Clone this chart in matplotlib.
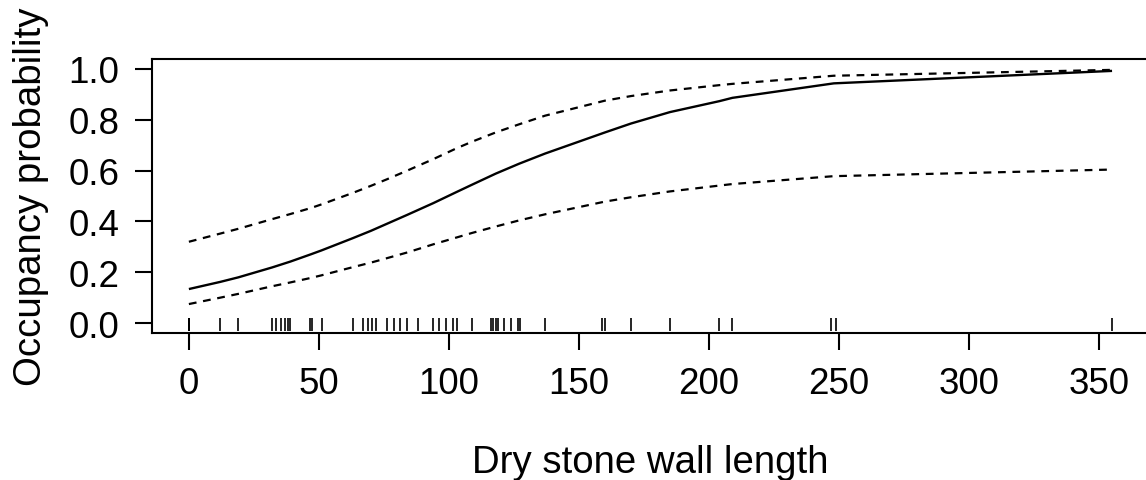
import numpy as np
import matplotlib
matplotlib.use("Agg")
import matplotlib.pyplot as plt

plt.rcParams['font.family'] = ['Liberation Sans', 'DejaVu Sans']

# Predicted occupancy and confidence bounds
wall_len = [0, 12, 19, 32, 39, 47, 51, 63, 70, 76, 84, 94, 103, 109, 118,
            127, 137, 160, 170, 185, 204, 209, 248, 355]
pred = [0.134, 0.162, 0.180, 0.219, 0.242, 0.271, 0.286, 0.334, 0.363, 0.390,
        0.426, 0.472, 0.516, 0.545, 0.588, 0.627, 0.667, 0.750, 0.785, 0.830,
        0.873, 0.886, 0.943, 0.992]
upper = [0.320, 0.352, 0.371, 0.409, 0.429, 0.453, 0.467, 0.512, 0.540, 0.565,
         0.600, 0.645, 0.688, 0.714, 0.750, 0.782, 0.816, 0.875, 0.893, 0.915,
         0.936, 0.941, 0.973, 0.996]
lower = [0.075, 0.100, 0.115, 0.145, 0.160, 0.178, 0.188, 0.220, 0.238, 0.255,
         0.278, 0.310, 0.337, 0.355, 0.380, 0.404, 0.428, 0.478, 0.495, 0.518,
         0.541, 0.547, 0.578, 0.604]

# observed wall lengths (rug)
rug_x = [0, 0, 0, 0, 12, 19, 32, 33.5, 35.5, 37, 38, 39, 46.5, 47.5, 51, 63,
         67, 69, 70.5, 72, 76, 79, 81, 84, 88, 94, 96, 99, 101.5, 103, 109,
         116, 117, 118, 119, 121, 124, 126.5, 127.5, 137, 159, 160, 170, 185,
         204, 209, 247, 249, 355]

xticks = [0, 50, 100, 150, 200, 250, 300, 350]
yticks = [0.0, 0.2, 0.4, 0.6, 0.8, 1.0]

fig = plt.figure(figsize=(11.46, 4.81), dpi=100)
ax = fig.add_axes([0.1326, 0.305, 0.870, 0.5709])

ax.plot(wall_len, pred, color='black', lw=1.7, solid_capstyle='butt')
ax.plot(wall_len, upper, color='black', lw=1.6, dashes=(3.5, 3))
ax.plot(wall_len, lower, color='black', lw=1.6, dashes=(3.5, 3))
ax.vlines(rug_x, -0.032, 0.022, color='black', lw=1.2)

ax.set_xlim(-14.2, 369.2)
ax.set_ylim(-0.04, 1.04)
ax.set_xticks(xticks)
ax.set_yticks(yticks)
ax.set_yticklabels(['%.1f' % v for v in yticks])

for s in ax.spines.values():
    s.set_linewidth(1.5)
ax.tick_params(direction='out', length=12.5, width=1.5, labelsize=26.5, pad=11)

ax.set_xlabel('Dry stone wall length', fontsize=27.6, labelpad=31)
ax.set_ylabel('Occupancy probability', fontsize=27.6, labelpad=14)

fig.savefig('out.png', dpi=100)
